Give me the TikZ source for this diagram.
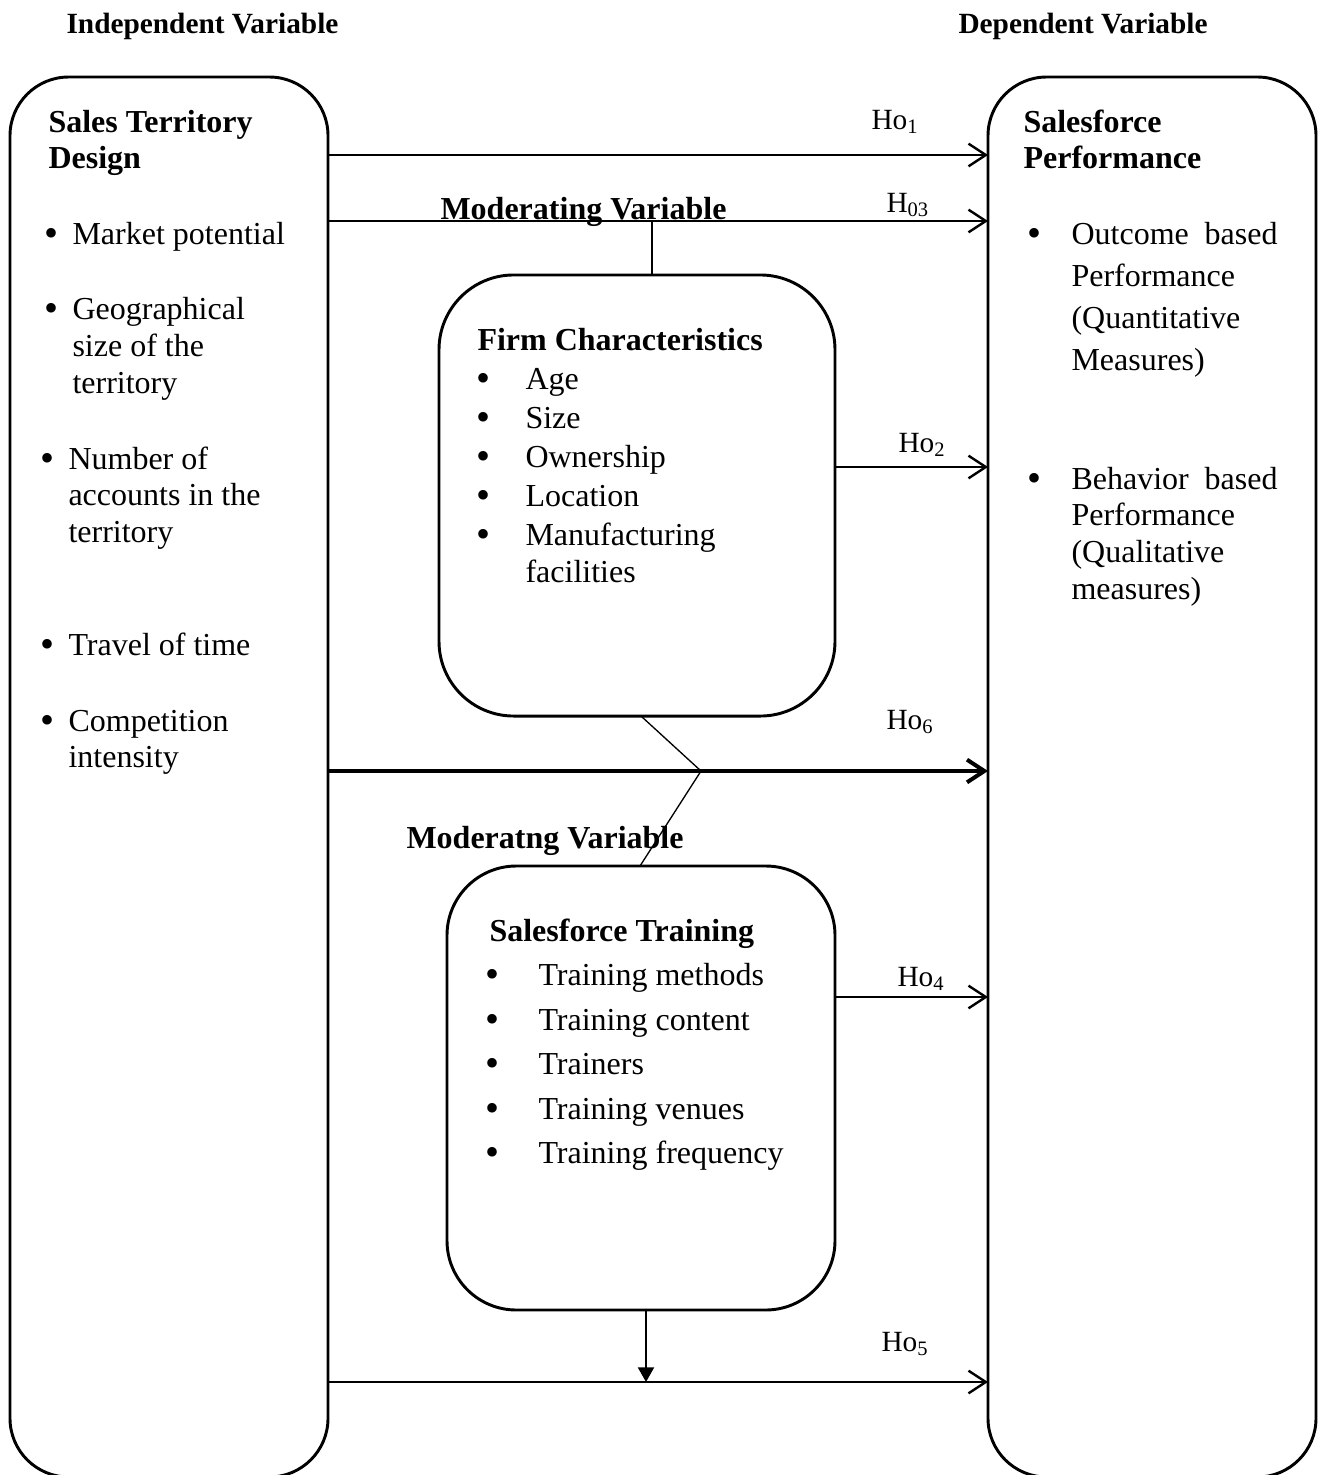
\documentclass[tikz,border=0pt]{standalone}
\usepackage{fontspec}
\setmainfont{Liberation Serif}
\usetikzlibrary{arrows.meta,positioning}

\begin{document}
\begin{tikzpicture}
[x=0.375pt, y=-0.375pt, line join=round,
varbox/.style={draw, line width=1.1pt, rounded corners=22pt, inner sep=0pt, outer sep=0pt},
modbox/.style={varbox, rounded corners=28pt},
hyp/.style={-{Straight Barb[length=6.5pt,width=8.5pt]}, line width=0.9pt},
link/.style={line width=0.5pt},
txt/.style={anchor=base west, inner sep=0pt, font=\fontsize{12}{14}\selectfont},
bul/.style={txt, font=\fontsize{15}{14}\selectfont},
title/.style={txt, font=\fontsize{12}{14}\selectfont\bfseries},
header/.style={txt, font=\fontsize{11}{13}\selectfont\bfseries},
hlabel/.style={txt, font=\fontsize{11}{13}\selectfont}]

\useasboundingbox (0,0) rectangle (1319,1475);

% variable boxes
\node[varbox, minimum width=119.25pt, minimum height=525pt] (std) at (169,777) {};
\node[varbox, minimum width=123pt, minimum height=525pt] (sfp) at (1152,777) {};
\node[modbox, minimum width=148.5pt, minimum height=165.4pt] (firm) at (637,495.5) {};
\node[modbox, rounded corners=26pt, minimum width=145.5pt, minimum height=166.5pt] (train) at (641,1088) {};

% headers
\node[header] (iv) at (66,33) {Independent Variable};
\node[header] (dv) at (958,33) {Dependent Variable};

% independent variable
\node[title] (std1) at (48,132) {Sales Territory};
\node[title] (std2) at (48,168) {Design};
\node[bul] (sb1) at (44,246) {\textbullet};
\node[txt] (st1) at (72,244) {Market potential};
\node[bul] (sb2) at (44,321) {\textbullet};
\node[txt] (st2) at (72,319) {Geographical};
\node[txt] (st2b) at (72,356) {size of the};
\node[txt] (st2c) at (72,393) {territory};
\node[bul] (sb3) at (40,471) {\textbullet};
\node[txt] (st3) at (68,469) {Number of};
\node[txt] (st3b) at (68,505) {accounts in the};
\node[txt] (st3c) at (68,542) {territory};
\node[bul] (sb4) at (40,657) {\textbullet};
\node[txt] (st4) at (68,655) {Travel of time};
\node[bul] (sb5) at (40,733) {\textbullet};
\node[txt] (st5) at (68,731) {Competition};
\node[txt] (st5b) at (68,767) {intensity};

% dependent variable
\node[title] (sfp1) at (1023,132) {Salesforce};
\node[title] (sfp2) at (1023,168) {Performance};
\node[bul] (pb1) at (1027,246) {\textbullet};
\node[txt] (pt1) at (1071,244) {\makebox[77.25pt][s]{Outcome based}};
\node[txt] (pt1b) at (1071,286) {Performance};
\node[txt] (pt1c) at (1071,328) {(Quantitative};
\node[txt] (pt1d) at (1071,370) {Measures)};
\node[bul] (pb2) at (1027,491) {\textbullet};
\node[txt] (pt2) at (1071,489) {\makebox[77.25pt][s]{Behavior based}};
\node[txt] (pt2b) at (1071,525) {Performance};
\node[txt] (pt2c) at (1071,562) {(Qualitative};
\node[txt] (pt2d) at (1071,599) {measures)};

% moderating variables
\node[title] (mv1) at (440,219) {Moderating Variable};
\node[title] (mv2) at (406,848) {Moderatng Variable};

\node[title] (fc) at (477,350) {Firm Characteristics};
\node[bul] (fb1) at (476,391) {\textbullet};
\node[txt] (ft1) at (525,389) {Age};
\node[bul] (fb2) at (476,430) {\textbullet};
\node[txt] (ft2) at (525,428) {Size};
\node[bul] (fb3) at (476,469) {\textbullet};
\node[txt] (ft3) at (525,467) {Ownership};
\node[bul] (fb4) at (476,508) {\textbullet};
\node[txt] (ft4) at (525,506) {Location};
\node[bul] (fb5) at (476,547) {\textbullet};
\node[txt] (ft5) at (525,545) {Manufacturing};
\node[txt] (ft5b) at (525,582) {facilities};

\node[title] (tr) at (489,941) {Salesforce Training};
\node[bul] (tb1) at (485,987) {\textbullet};
\node[txt] (tt1) at (538,985) {Training methods};
\node[bul] (tb2) at (485,1032) {\textbullet};
\node[txt] (tt2) at (538,1030) {Training content};
\node[bul] (tb3) at (485,1076) {\textbullet};
\node[txt] (tt3) at (538,1074) {Trainers};
\node[bul] (tb4) at (485,1121) {\textbullet};
\node[txt] (tt4) at (538,1119) {Training venues};
\node[bul] (tb5) at (485,1165) {\textbullet};
\node[txt] (tt5) at (538,1163) {Training frequency};

% hypotheses
\draw[hyp] (std.east |- 0,155) -- (sfp.west |- 0,155);
\draw[hyp] (std.east |- 0,221) -- (sfp.west |- 0,221);
\draw[hyp] (firm.east |- 0,467) -- (sfp.west |- 0,467);
\draw[hyp, line width=1.5pt] (std.east |- 0,771) -- (sfp.west |- 0,771);
\draw[hyp] (train.east |- 0,997) -- (sfp.west |- 0,997);
\draw[hyp] (std.east |- 0,1382) -- (sfp.west |- 0,1382);

\node[hlabel] (h1) at (871,129) {Ho\textsubscript{1}};
\node[hlabel] (h3) at (886,212) {H\textsubscript{03}};
\node[hlabel] (h2) at (898,452) {Ho\textsubscript{2}};
\node[hlabel] (h6) at (886,729) {Ho\textsubscript{6}};
\node[hlabel] (h4) at (897,986) {Ho\textsubscript{4}};
\node[hlabel] (h5) at (881,1351) {Ho\textsubscript{5}};

% moderator links
\coordinate (m1) at (652,221);
\draw[link] (m1) -- (firm.north -| m1);
\coordinate (kink) at (701,771);
\draw[link] (firm.south -| 641,0) -- (kink) -- (train.north -| 640,0);
\coordinate (drop) at (646,1382);
\draw[line width=0.8pt, -{Triangle[length=5.5pt,width=6pt]}] (train.south -| drop) -- (drop);

\end{tikzpicture}
\end{document}
